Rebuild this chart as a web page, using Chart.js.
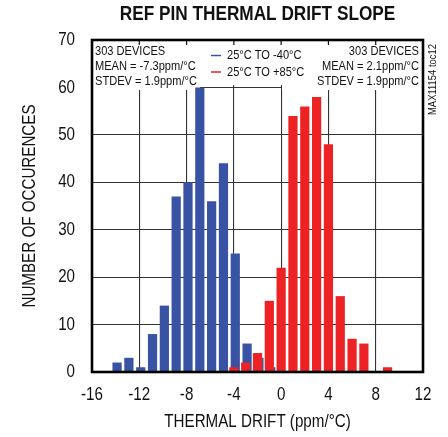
<!DOCTYPE html>
<html>
<head>
<meta charset="utf-8">
<script src="https://cdn.jsdelivr.net/npm/chart.js@4.4.0/dist/chart.umd.min.js"></script>
<style>
  html, body { margin: 0; padding: 0; background: #fff; }
  #wrap { width: 448px; height: 437px; }
</style>
</head>
<body>
<div id="wrap"><canvas id="drift-graph"></canvas></div>
<script>
// --< Data >--
const coldBins = [-14, -13, -12, -11, -10, -9, -8, -7, -6, -5, -4, -3, -2, -1];
const coldCounts = [2, 3, 1, 8, 14, 37, 40, 60, 36, 44, 25, 6, 3, 1];
const hotBins = [-4, -3, -2, -1, 0, 1, 2, 3, 4, 5, 6, 7, 9];
const hotCounts = [1, 2, 4, 15, 22, 54, 56, 58, 48, 16, 7, 6, 1];

const xTicks = [-16, -12, -8, -4, 0, 4, 8, 12];
const yTicks = [0, 10, 20, 30, 40, 50, 60, 70];

const seriesLabels = ["25°C TO -40°C", "25°C TO +85°C"];
const coldNote = ["303 DEVICES", "MEAN = -7.3ppm/°C", "STDEV = 1.9ppm/°C"];
const hotNote = ["303 DEVICES", "MEAN = 2.1ppm/°C", "STDEV = 1.9ppm/°C"];
const chartTitle = "REF PIN THERMAL DRIFT SLOPE";
const sideTag = "MAX11154 toc12";
// --</ Data >--

const FONT = "'Liberation Sans', Arial, sans-serif";
const NARROW = 0.82;   // no narrow font installed, squeeze the glyphs instead
const BLUE = '#3953a4';
const RED = '#ed2224';
Chart.defaults.font.family = FONT;
Chart.defaults.color = '#111';

const toPoints = (xs, ys) => xs.map((x, i) => ({ x: x, y: ys[i] }));

// --< Narrow text >--
const canvas = document.getElementById('drift-graph');
const c2d = canvas.getContext('2d');
const rawFill = c2d.fillText;
c2d.fillText = function (text, x, y, maxWidth) {
  this.save();
  this.translate(x, y);
  this.scale(NARROW, 1);
  if (maxWidth === undefined) rawFill.call(this, text, 0, 0);
  else rawFill.call(this, text, 0, 0, maxWidth / NARROW);
  this.restore();
};
// --</ Narrow text >--

// white boxes, frame, notes and legend
const overlay = {
  id: 'overlay',
  beforeDatasetsDraw(chart) {
    const { ctx, chartArea: a } = chart;
    ctx.save();
    ctx.fillStyle = '#fff';
    ctx.fillRect(a.left, a.top, 108, 50);
    ctx.fillRect(a.left + 108, a.top, 82, 45);
    ctx.fillRect(a.left + 190, a.top, a.right - a.left - 190, 50);
    ctx.restore();
  },
  afterDatasetsDraw(chart) {
    const { ctx, chartArea: a } = chart;
    const xs = chart.scales.x;
    ctx.save();

    // top tick marks
    ctx.strokeStyle = '#111';
    ctx.lineWidth = 1.2;
    xTicks.forEach(v => {
      const px = xs.getPixelForValue(v);
      ctx.beginPath(); ctx.moveTo(px, a.top); ctx.lineTo(px, a.top + 5); ctx.stroke();
    });

    // frame
    ctx.lineWidth = 2.6;
    ctx.strokeStyle = '#000';
    ctx.strokeRect(a.left, a.top, a.right - a.left, a.bottom - a.top);

    // notes
    ctx.fillStyle = '#111';
    ctx.font = `13.5px ${FONT}`;
    ctx.textBaseline = 'middle';
    const rows = [51, 66, 81.5];
    ctx.textAlign = 'left';
    coldNote.forEach((t, i) => ctx.fillText(t, a.left + 3, rows[i]));
    ctx.textAlign = 'right';
    hotNote.forEach((t, i) => ctx.fillText(t, a.right - 4, rows[i]));

    // legend
    ctx.textAlign = 'left';
    ctx.font = `13.5px ${FONT}`;
    const ly = [55.5, 72];
    chart.data.datasets.forEach((ds, i) => {
      ctx.strokeStyle = ds.backgroundColor;
      ctx.lineWidth = 1.5;
      ctx.beginPath(); ctx.moveTo(a.left + 119, ly[i]); ctx.lineTo(a.left + 129, ly[i]); ctx.stroke();
      ctx.fillText(ds.label, a.left + 135, ly[i]);
    });

    // title
    ctx.textAlign = 'center';
    ctx.font = `bold 21px ${FONT}`;
    ctx.fillText(chartTitle, (a.left + a.right) / 2, 14);

    // side tag
    ctx.translate(a.right + 10, 115);
    ctx.rotate(-Math.PI / 2);
    ctx.textAlign = 'left';
    ctx.font = `11.5px ${FONT}`;
    ctx.fillText(sideTag, 0, 0);

    ctx.restore();
  }
};

new Chart(canvas, {
  type: 'bar',
  data: {
    datasets: [{
      label: seriesLabels[0],
      data: toPoints(coldBins, coldCounts),
      backgroundColor: BLUE,
      xAxisID: 'xCold',
      order: 1
    }, {
      label: seriesLabels[1],
      data: toPoints(hotBins, hotCounts),
      backgroundColor: RED,
      xAxisID: 'x',
      order: 0
    }]
  },
  options: {
    responsive: true,
    maintainAspectRatio: false,
    animation: false,
    grouped: false,
    barPercentage: 0.78,
    categoryPercentage: 1,
    layout: { padding: { top: 40, right: 25, left: 0, bottom: 0 } },
    plugins: {
      legend: { display: false },
      title: { display: false },
      tooltip: { enabled: false }
    },
    scales: {
      x: {
        type: 'linear',
        position: 'bottom',
        offset: false,
        min: -16,
        max: 12,
        afterBuildTicks: s => { s.ticks = xTicks.map(v => ({ value: v })); },
        afterFit: s => { s.height = 65; },
        ticks: { padding: 12, font: { size: 18.5 }, color: '#111' },
        grid: { offset: false, color: '#333', lineWidth: 1.1, drawTicks: false },
        border: { display: false },
        title: { display: true, text: 'THERMAL DRIFT (ppm/°C)', font: { size: 18.5 }, padding: { bottom: 4 }, color: '#111' }
      },
      xCold: {
        type: 'linear',
        axis: 'x',
        position: 'bottom',
        display: false,
        offset: false,
        min: -16.12,
        max: 11.88
      },
      y: {
        min: 0,
        max: 70,
        afterBuildTicks: s => { s.ticks = yTicks.map(v => ({ value: v })); },
        afterFit: s => { s.width = 92; },
        ticks: { padding: 17, font: { size: 18.5 }, color: '#111' },
        grid: { color: '#333', lineWidth: 1.1, drawTicks: false },
        border: { display: false },
        title: { display: true, text: 'NUMBER OF OCCURENCES', font: { size: 18.5 }, padding: { top: 19 }, color: '#111' }
      }
    }
  },
  plugins: [overlay]
});
</script>
</body>
</html>
